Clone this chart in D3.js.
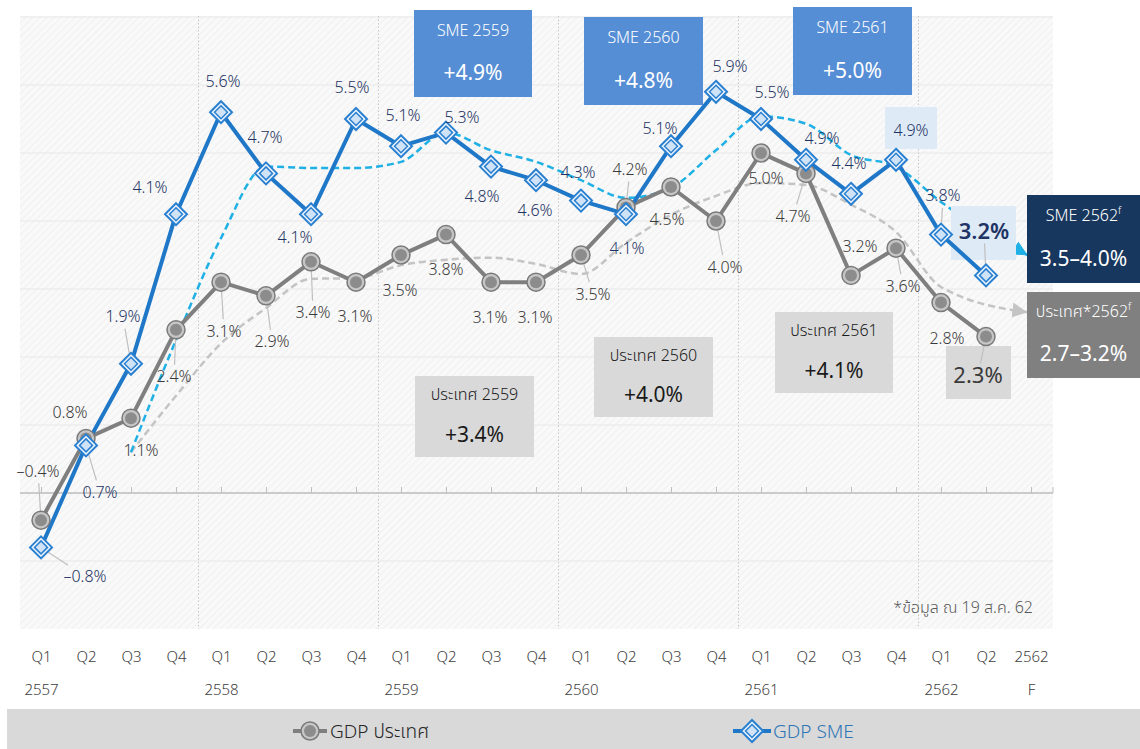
<!DOCTYPE html>
<html>
<head>
<meta charset="utf-8">
<script src="https://cdn.jsdelivr.net/npm/d3@7"></script>
<style>
  body { margin: 0; background: #fff; }
  svg text { font-family: "Noto Sans Thai", "Noto Sans", "DejaVu Sans", sans-serif; font-weight: 300; }
</style>
</head>
<body>
<svg id="chart" width="1140" height="749"></svg>
<script>
//quarter tick labels and year labels along the x axis
var quarters = ["Q1","Q2","Q3","Q4","Q1","Q2","Q3","Q4","Q1","Q2","Q3","Q4",
                "Q1","Q2","Q3","Q4","Q1","Q2","Q3","Q4","Q1","Q2","2562"];
var years = ["2557","","","","2558","","","","2559","","","","2560","","","",
             "2561","","","","2562","","F"];

//GDP growth by quarter (%)
var gdpCountry = [-0.4,0.8,1.1,2.4,3.1,2.9,3.4,3.1,3.5,3.8,3.1,3.1,
                  3.5,4.2,4.5,4.0,5.0,4.7,3.2,3.6,2.8,2.3,null];
var gdpSme = [-0.8,0.7,1.9,4.1,5.6,4.7,4.1,5.5,5.1,5.3,4.8,4.6,
              4.3,4.1,5.1,5.9,5.5,4.9,4.4,4.9,3.8,3.2,null];

//dashed trend lines, ending in the 2562 forecast
var smeTrend = [null,null,0.6,2.25,3.75,4.8,4.78,4.78,4.87,5.3,5.04,4.87,
                4.6,4.34,4.49,5.04,5.54,5.43,4.97,4.8,4.28,null,3.47];
var gdpTrend = [null,null,0.6,1.43,2.2,2.72,3.15,3.16,3.35,3.43,3.46,3.37,
                3.22,3.68,4.09,4.37,4.56,4.53,4.24,3.84,3.03,null,2.65];

//yearly summary boxes
var smeYearTitles = ["SME 2559","SME 2560","SME 2561"];
var smeYearValues = ["+4.9%","+4.8%","+5.0%"];
var countryYearTitles = ["ประเทศ 2559","ประเทศ 2560","ประเทศ 2561"];
var countryYearValues = ["+3.4%","+4.0%","+4.1%"];
var forecastSme = "3.5–4.0%";
var forecastCountry = "2.7–3.2%";

var legendNames = ["GDP ประเทศ","GDP SME"];
var footnote = "*ข้อมูล ณ 19 ส.ค. 62";

//label offsets from each point (layout only)
var gdpLabelOffsets = [[-3,-49],[-16,-26],[10,32],[-2,47],[3,49],[6,46],[2,51],[-1,34],
  [-1,35],[0,35],[-1,35],[-1,35],[12,39],[4,-38],[-4,32],[9,46],[5,25],[-13,43],
  [9,-29],[7,38],[6,36],[-8,39]];
var smeLabelOffsets = [[44,29],[14,47],[-8,-47],[-26,-27],[2,-31],[-1,-36],[-16,23],[-4,-32],
  [2,-31],[16,-15],[-9,30],[-1,30],[-3,-28],[1,34],[-11,-18],[14,-25],[11,-27],[16,-21],
  [-2,-30],[15,-29],[2,-39],[-2,-44]];

var svg = d3.select("#chart");
var plot = {left: 20, right: 1053, top: 16, bottom: 629};

var keys = quarters.map(function(q, i) { return i; });
var x = d3.scalePoint().domain(keys).range([41, 1031]);
var y = d3.scaleLinear().domain([-2, 7]).range([629, 17]);

var defs = svg.append("defs");
var pat = defs.append("pattern").attr("id", "hatch")
    .attr("patternUnits", "userSpaceOnUse").attr("width", 5).attr("height", 5)
    .attr("patternTransform", "rotate(45)");
pat.append("rect").attr("width", 5).attr("height", 5).attr("fill", "#f9f9f9");
pat.append("line").attr("x1", 0).attr("y1", 0).attr("x2", 0).attr("y2", 5)
    .attr("stroke", "#eeeeee").attr("stroke-width", 1.6);

//arrowheads: tip stops a few px short of the end point, at the box edge
function arrow(id, color) {
  defs.append("marker").attr("id", id).attr("viewBox", "0 0 10 10")
      .attr("refX", 12.5).attr("refY", 5).attr("markerWidth", 6).attr("markerHeight", 6)
      .attr("orient", "auto").attr("markerUnits", "strokeWidth")
    .append("path").attr("d", "M0,0 L10,5 L0,10 Z").attr("fill", color);
}
arrow("arrowSme", "#1fb0e6");
arrow("arrowGdp", "#c4c4c4");

//plot background
svg.append("rect").attr("x", plot.left).attr("y", plot.top)
    .attr("width", plot.right - plot.left).attr("height", plot.bottom - plot.top)
    .attr("fill", "url(#hatch)");

//horizontal gridlines
svg.append("g").selectAll("line").data(d3.range(-1, 8)).enter().append("line")
    .attr("x1", plot.left).attr("x2", plot.right)
    .attr("y1", function(d) { return y(d); }).attr("y2", function(d) { return y(d); })
    .attr("stroke", "#ececec").attr("stroke-width", 1.5);

//dotted year separators
var step = x.step();
svg.append("g").selectAll("line").data([3, 7, 11, 15, 19]).enter().append("line")
    .attr("x1", function(d) { return x(d) + step / 2; })
    .attr("x2", function(d) { return x(d) + step / 2; })
    .attr("y1", plot.top).attr("y2", plot.bottom)
    .attr("stroke", "#c8c8c8").attr("stroke-dasharray", "1.5,2");

//zero axis with small ticks
var zeroAxis = svg.append("g").attr("transform", "translate(0," + y(0) + ")")
    .call(d3.axisBottom(x).tickSize(-6).tickFormat(""));
zeroAxis.select(".domain").remove();
zeroAxis.selectAll(".tick line").attr("stroke", "#bfbfbf");
svg.append("line").attr("x1", plot.left).attr("x2", plot.right)
    .attr("y1", y(0)).attr("y2", y(0)).attr("stroke", "#bfbfbf").attr("stroke-width", 1.5);
svg.append("line").attr("x1", plot.right).attr("x2", plot.right)
    .attr("y1", y(0) - 6).attr("y2", y(0)).attr("stroke", "#bfbfbf");

//quarter and year labels
var qAxis = svg.append("g").attr("transform", "translate(0,651)")
    .call(d3.axisBottom(x).tickSize(0).tickPadding(0)
      .tickFormat(function(i) { return quarters[i]; }));
qAxis.select(".domain").remove();
qAxis.selectAll("text").attr("font-size", 15).attr("fill", "#404040")
    .attr("font-family", "'Noto Sans', sans-serif");

var yAxisRow = svg.append("g").attr("transform", "translate(0,684)")
    .call(d3.axisBottom(x).tickSize(0).tickPadding(0)
      .tickFormat(function(i) { return years[i]; }));
yAxisRow.select(".domain").remove();
yAxisRow.selectAll("text").attr("font-size", 15).attr("fill", "#404040")
    .attr("font-family", "'Noto Sans', sans-serif");

//trend lines
function trendLine(values, color, markerId) {
  var pts = values.map(function(v, i) { return [i, v]; })
      .filter(function(p) { return p[1] !== null; });
  var line = d3.line()
      .x(function(p) { return x(p[0]); })
      .y(function(p) { return y(p[1]); })
      .curve(d3.curveMonotoneX);
  svg.append("path").attr("d", line(pts)).attr("fill", "none")
      .attr("stroke", color).attr("stroke-width", 2.5)
      .attr("stroke-dasharray", "7,4")
      .attr("marker-end", "url(#" + markerId + ")");
}
trendLine(gdpTrend, "#c4c4c4", "arrowGdp");
trendLine(smeTrend, "#1fb0e6", "arrowSme");

//label boxes behind labels
function box(x0, y0, x1, y1, fill) {
  svg.append("rect").attr("x", x0).attr("y", y0)
      .attr("width", x1 - x0).attr("height", y1 - y0).attr("fill", fill);
}
box(946, 346, 1011, 399, "#d9d9d9");
box(951, 206, 1016, 260, "#deebf7");
box(885, 107, 937, 149, "#deebf7");

//leader lines from points to labels
function leaders(values, offsets) {
  var g = svg.append("g");
  values.forEach(function(v, i) {
    if (v === null || !offsets[i]) return;
    var dx = offsets[i][0], dy = offsets[i][1];
    var dist = Math.sqrt(dx * dx + dy * dy);
    if (dist < 38) return;
    var ux = dx / dist, uy = dy / dist;
    var t = Math.min(22 / Math.max(Math.abs(ux), 0.001), 10 / Math.max(Math.abs(uy), 0.001)) + 2;
    var px = x(i), py = y(v);
    g.append("line")
        .attr("x1", px + ux * 6).attr("y1", py + uy * 6)
        .attr("x2", px + dx - ux * t).attr("y2", py + dy - uy * t)
        .attr("stroke", "#c0c0c0").attr("stroke-width", 1.2);
  });
}
leaders(gdpCountry, gdpLabelOffsets);
leaders(gdpSme, smeLabelOffsets);

//main series lines
function seriesLine(values, color) {
  var line = d3.line()
      .defined(function(v) { return v !== null; })
      .x(function(v, i) { return x(i); })
      .y(function(v) { return y(v); });
  svg.append("path").datum(values).attr("d", line).attr("fill", "none")
      .attr("stroke", color).attr("stroke-width", 4).attr("stroke-linejoin", "round");
}
seriesLine(gdpCountry, "#7f7f7f");
seriesLine(gdpSme, "#1f77c8");

//markers
function circleMarker(g, cx, cy) {
  g.append("circle").attr("cx", cx).attr("cy", cy).attr("r", 9)
      .attr("fill", "#c6c6c6").attr("stroke", "#7a7a7a").attr("stroke-width", 1.5);
  g.append("circle").attr("cx", cx).attr("cy", cy).attr("r", 6)
      .attr("fill", "#8c8c8c");
}
function diamondMarker(g, cx, cy) {
  g.append("path").attr("transform", "translate(" + cx + "," + cy + ")")
      .attr("d", "M0,-11L11,0L0,11L-11,0Z")
      .attr("fill", "#eef5fd").attr("stroke", "#2a80d0").attr("stroke-width", 2);
  g.append("path").attr("transform", "translate(" + cx + "," + cy + ")")
      .attr("d", "M0,-6.5L6.5,0L0,6.5L-6.5,0Z")
      .attr("fill", "#cfe2f6").attr("stroke", "#2a80d0").attr("stroke-width", 1.5);
}
var gm = svg.append("g");
gdpCountry.forEach(function(v, i) { if (v !== null) circleMarker(gm, x(i), y(v)); });
var sm = svg.append("g");
gdpSme.forEach(function(v, i) { if (v !== null) diamondMarker(sm, x(i), y(v)); });

//data labels
function labels(values, offsets, color, bigIndex, bigWeight) {
  svg.append("g").selectAll("text")
      .data(values.map(function(v, i) { return {v: v, i: i}; })
        .filter(function(d) { return d.v !== null; }))
      .enter().append("text")
      .attr("x", function(d) { return x(d.i) + offsets[d.i][0]; })
      .attr("y", function(d) { return y(d.v) + offsets[d.i][1]; })
      .attr("dy", "0.35em").attr("text-anchor", "middle")
      .attr("font-size", function(d) { return d.i === bigIndex ? 22 : 16; })
      .style("font-weight", function(d) { return d.i === bigIndex ? bigWeight : 300; })
      .attr("fill", color)
      .text(function(d) { return (d.v < 0 ? "–" : "") + d3.format(".1f")(Math.abs(d.v)) + "%"; });
}
labels(gdpCountry, gdpLabelOffsets, "#3a3a3a", 21, 400);
labels(gdpSme, smeLabelOffsets, "#1f3464", 21, 600);

//summary boxes
function summary(x0, y0, x1, y1, fill, color, title, value, sup) {
  box(x0, y0, x1, y1, fill);
  var cx = (x0 + x1) / 2;
  var t = svg.append("text").attr("x", cx).attr("y", y0 + (y1 - y0) * 0.23)
      .attr("dy", "0.35em").attr("text-anchor", "middle")
      .attr("font-size", 16).attr("fill", color).text(title);
  if (sup) {
    t.append("tspan").attr("font-size", 10).attr("dy", "-0.7em").text("f");
  }
  svg.append("text").attr("x", cx).attr("y", y0 + (y1 - y0) * 0.72)
      .attr("dy", "0.35em").attr("text-anchor", "middle")
      .attr("font-size", 21).style("font-weight", 400).attr("fill", color).text(value);
}
var smeBoxes = [[414, 10, 532, 97], [584, 17, 703, 105], [793, 7, 912, 95]];
smeBoxes.forEach(function(b, k) {
  summary(b[0], b[1], b[2], b[3], "#558ed5", "#ffffff", smeYearTitles[k], smeYearValues[k]);
});
var countryBoxes = [[415, 376, 534, 457], [594, 337, 713, 417], [775, 312, 893, 393]];
countryBoxes.forEach(function(b, k) {
  summary(b[0], b[1], b[2], b[3], "#d9d9d9", "#1a1a1a", countryYearTitles[k], countryYearValues[k]);
});
summary(1027, 195, 1140, 283, "#17375e", "#ffffff", "SME 2562", forecastSme, true);
summary(1027, 292, 1140, 378, "#808080", "#ffffff", "ประเทศ*2562", forecastCountry, true);

//footnote
svg.append("text").attr("x", 1033).attr("y", 607).attr("dy", "0.35em")
    .attr("text-anchor", "end").attr("font-size", 16).attr("fill", "#595959")
    .text(footnote);

//legend bar
svg.append("rect").attr("x", 7).attr("y", 709).attr("width", 1133).attr("height", 40)
    .attr("fill", "#d9d9d9");
var lg = svg.append("g");
lg.append("line").attr("x1", 293).attr("x2", 327).attr("y1", 731).attr("y2", 731)
    .attr("stroke", "#7f7f7f").attr("stroke-width", 4);
circleMarker(lg, 310, 731);
lg.append("text").attr("x", 330).attr("y", 731).attr("dy", "0.35em")
    .attr("font-size", 19).attr("fill", "#262626").text(legendNames[0]);
lg.append("line").attr("x1", 733).attr("x2", 771).attr("y1", 731).attr("y2", 731)
    .attr("stroke", "#1f77c8").attr("stroke-width", 4);
diamondMarker(lg, 752, 731);
lg.append("text").attr("x", 773).attr("y", 731).attr("dy", "0.35em")
    .attr("font-size", 19).attr("fill", "#2e75b6").text(legendNames[1]);
</script>
</body>
</html>
